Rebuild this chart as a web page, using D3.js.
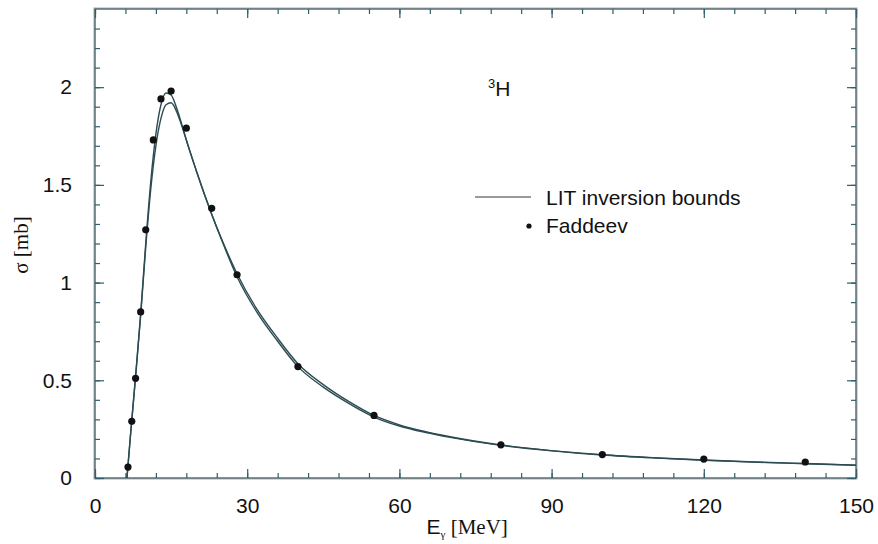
<!DOCTYPE html>
<html>
<head>
<meta charset="utf-8">
<script src="https://cdn.jsdelivr.net/npm/d3@7"></script>
<style>
  body { margin: 0; background: #fff; }
  .tick text { font-family: "Liberation Sans", Arial, sans-serif; font-size: 21px; fill: #111; }
  .axis path { display: none; }
  .axis line { stroke: #2d5f6e; stroke-width: 1.2; }
</style>
</head>
<body>
<div id="chart"></div>
<script>
// LIT inversion bounds (upper / lower) sampled along E
var curveE     = [6.3, 7, 8, 9, 10, 11, 12, 13, 14, 15, 16, 17, 18, 20, 23, 25, 28, 32, 36, 40, 45, 50, 55, 60, 65, 70, 80, 90, 100, 110, 120, 130, 140, 150];
var upperSigma = [0, 0.22, 0.52, 0.84, 1.20, 1.52, 1.76, 1.91, 1.97, 1.96, 1.90, 1.82, 1.73, 1.57, 1.35, 1.22, 1.045, 0.86, 0.715, 0.585, 0.478, 0.392, 0.32, 0.272, 0.238, 0.211, 0.169, 0.14, 0.119, 0.104, 0.092, 0.082, 0.074, 0.066];
var lowerSigma = [0, 0.22, 0.52, 0.83, 1.18, 1.48, 1.70, 1.84, 1.91, 1.92, 1.88, 1.81, 1.73, 1.57, 1.35, 1.215, 1.03, 0.845, 0.70, 0.57, 0.465, 0.382, 0.312, 0.266, 0.234, 0.208, 0.167, 0.139, 0.118, 0.103, 0.091, 0.081, 0.073, 0.065];

// Faddeev results
var faddeevE     = [6.5, 7.25, 8, 9, 10, 11.5, 13, 15, 18, 23, 28, 40, 55, 80, 100, 120, 140];
var faddeevSigma = [0.056, 0.29, 0.51, 0.85, 1.27, 1.73, 1.94, 1.98, 1.79, 1.38, 1.04, 0.57, 0.32, 0.17, 0.12, 0.097, 0.082];

var xMajor = [0, 30, 60, 90, 120, 150];
var yMajor = [0, 0.5, 1, 1.5, 2];

var margin = {top: 9, right: 22, bottom: 66, left: 95},
    width = 878 - margin.left - margin.right,
    height = 544 - margin.top - margin.bottom;

var svg = d3.select("#chart")
    .append("svg")
      .attr("width", 878)
      .attr("height", 544)
    .append("g")
      .attr("transform", "translate(" + margin.left + "," + margin.top + ")");

var x = d3.scaleLinear().domain([0, 150]).range([0, width]);
var y = d3.scaleLinear().domain([0, 2.4]).range([height, 0]);

// frame: faint salmon halo + teal line
svg.append("rect")
    .attr("x", -1).attr("y", -1)
    .attr("width", width + 2).attr("height", height + 2)
    .attr("fill", "none").attr("stroke", "#f2a58c").attr("stroke-width", 1.2);
svg.append("rect")
    .attr("width", width).attr("height", height)
    .attr("fill", "none").attr("stroke", "#2d5f6e").attr("stroke-width", 1.3);

var xMinor = d3.range(0, 151, 6);
var yMinor = d3.range(0, 24).map(function(i) { return i / 10; });

// bottom
svg.append("g").attr("class", "axis")
    .attr("transform", "translate(0," + height + ")")
    .call(d3.axisBottom(x).tickValues(xMinor).tickSize(-5).tickFormat(""));
svg.append("g").attr("class", "axis")
    .attr("transform", "translate(0," + height + ")")
    .call(d3.axisBottom(x).tickValues(xMajor).tickSize(-9).tickPadding(20).tickFormat(d3.format("d")));
// top
svg.append("g").attr("class", "axis")
    .call(d3.axisTop(x).tickValues(xMinor).tickSize(-5).tickFormat(""));
svg.append("g").attr("class", "axis")
    .call(d3.axisTop(x).tickValues(xMajor).tickSize(-9).tickFormat(""));
// left
svg.append("g").attr("class", "axis")
    .call(d3.axisLeft(y).tickValues(yMinor).tickSize(-5).tickFormat(""));
svg.append("g").attr("class", "axis")
    .call(d3.axisLeft(y).tickValues(yMajor).tickSize(-9).tickPadding(23).tickFormat(d3.format("")));
// right
svg.append("g").attr("class", "axis")
    .attr("transform", "translate(" + width + ",0)")
    .call(d3.axisRight(y).tickValues(yMinor).tickSize(-5).tickFormat(""));
svg.append("g").attr("class", "axis")
    .attr("transform", "translate(" + width + ",0)")
    .call(d3.axisRight(y).tickValues(yMajor).tickSize(-9).tickFormat(""));

var line = d3.line()
    .x(function(d) { return x(d[0]); })
    .y(function(d) { return y(d[1]); })
    .curve(d3.curveMonotoneX);

[upperSigma, lowerSigma].forEach(function(s) {
  svg.append("path")
      .datum(curveE.map(function(e, i) { return [e, s[i]]; }))
      .attr("fill", "none")
      .attr("stroke", "#2c4b52")
      .attr("stroke-width", 1.4)
      .attr("d", line);
});

svg.selectAll(".pt")
    .data(faddeevE.map(function(e, i) { return [e, faddeevSigma[i]]; }))
    .enter().append("circle")
      .attr("class", "pt")
      .attr("cx", function(d) { return x(d[0]); })
      .attr("cy", function(d) { return y(d[1]); })
      .attr("r", 3.6)
      .attr("fill", "#111");

// 3H label
var lab = svg.append("text")
    .attr("x", 393).attr("y", 87)
    .attr("font-family", "Liberation Sans, Arial, sans-serif")
    .attr("font-size", 21).attr("fill", "#111");
lab.append("tspan").attr("font-size", 13).attr("dy", -8).text("3");
lab.append("tspan").attr("dy", 8).text("H");

// legend
svg.append("line")
    .attr("x1", 380).attr("x2", 436)
    .attr("y1", 188).attr("y2", 188)
    .attr("stroke", "#777").attr("stroke-width", 1.5);
svg.append("text")
    .attr("x", 451).attr("y", 196)
    .attr("font-family", "Liberation Sans, Arial, sans-serif")
    .attr("font-size", 21).attr("fill", "#111")
    .text("LIT inversion bounds");
svg.append("circle")
    .attr("cx", 434).attr("cy", 217).attr("r", 2.6).attr("fill", "#111");
svg.append("text")
    .attr("x", 451).attr("y", 224)
    .attr("font-family", "Liberation Sans, Arial, sans-serif")
    .attr("font-size", 21).attr("fill", "#111")
    .text("Faddeev");

// axis titles
var xt = svg.append("text")
    .attr("x", width / 2 - 49).attr("y", height + 56)
    .attr("font-family", "Liberation Serif, Times, serif")
    .attr("font-size", 21).attr("fill", "#111");
xt.append("tspan").attr("font-family", "Liberation Sans, Arial, sans-serif").text("E");
xt.append("tspan").attr("font-size", 11).attr("dy", 4).text("γ");
xt.append("tspan").attr("dy", -4).text(" [MeV]");

svg.append("text")
    .attr("transform", "translate(" + (-67) + "," + (245 - margin.top) + ") rotate(-90)")
    .attr("text-anchor", "middle")
    .attr("font-family", "Liberation Serif, Times, serif")
    .attr("font-size", 21).attr("fill", "#111")
    .text("σ [mb]");
</script>
</body>
</html>
